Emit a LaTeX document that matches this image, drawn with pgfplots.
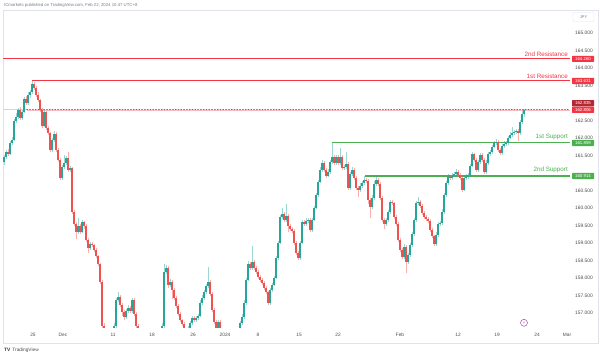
\documentclass[border=0pt]{standalone}
\usepackage{pgfplots}
\usepackage{pgfplotstable}
\pgfplotsset{compat=1.18}
\usepackage{fontspec}
\setmainfont{Liberation Sans}
\newfontfamily\dejavu{DejaVu Sans}
\definecolor{tvgreen}{HTML}{26A69A}
\definecolor{tvred}{HTML}{EF5350}
\definecolor{lvred}{HTML}{F23645}
\definecolor{lvgreen}{HTML}{4CAF50}
\definecolor{tagdark}{HTML}{B22833}
\definecolor{txtgray}{HTML}{787B86}
\definecolor{frame}{HTML}{E0E3EB}

% candles: x o h l c  (up candles)
\pgfplotstableread{
x o h l c
4 161.30 161.52 161.24 161.46
6 161.46 161.66 161.40 161.60
10 161.54 161.92 161.50 161.86
12 161.86 162.02 161.80 161.94
14 161.94 162.55 161.90 162.49
16 162.49 162.70 162.42 162.60
18 162.60 162.86 162.55 162.80
22 162.57 162.80 162.50 162.74
24 162.74 163.18 162.70 163.12
28 163.00 163.30 162.95 163.23
30 163.23 163.38 163.15 163.31
32 163.31 163.63 163.26 163.54
44 162.34 162.80 162.30 162.74
52 161.66 162.00 161.60 161.94
54 161.94 162.20 161.88 162.12
62 160.86 161.24 160.80 161.17
64 161.17 161.50 161.10 161.29
66 161.29 161.48 161.24 161.43
70 161.09 161.20 161.04 161.14
78 159.32 159.70 159.26 159.49
82 159.32 159.66 159.28 159.60
90 158.86 159.03 158.80 158.97
110 155.89 156.06 155.84 156.00
112 156.00 156.30 155.96 156.23
114 156.23 156.70 156.18 156.63
116 156.63 157.44 156.58 157.37
118 157.37 157.60 157.30 157.46
126 156.89 157.12 156.84 157.06
128 157.06 157.22 157.00 157.14
132 157.06 157.44 157.00 157.37
144 155.79 155.96 155.74 155.89
146 155.89 156.06 155.84 156.00
152 155.79 156.00 155.74 155.94
154 155.94 156.12 155.88 156.06
158 155.94 156.16 155.88 156.09
160 156.09 156.36 156.04 156.29
162 156.29 156.70 156.24 156.63
164 156.63 158.40 156.58 158.17
166 158.17 158.36 158.10 158.29
170 157.80 157.96 157.74 157.89
188 156.40 156.64 156.34 156.57
190 156.57 156.78 156.52 156.72
192 156.72 156.92 156.66 156.86
196 156.80 156.92 156.74 156.86
198 156.86 156.98 156.80 156.92
200 156.92 157.36 156.88 157.29
202 157.29 157.50 157.24 157.43
204 157.43 157.66 157.38 157.60
206 157.60 157.84 157.54 157.77
208 157.77 158.30 157.72 157.89
218 156.57 156.80 156.52 156.74
228 155.94 156.06 155.88 156.00
230 156.00 156.18 155.94 156.12
234 156.06 156.24 156.00 156.17
236 156.17 156.36 156.12 156.29
238 156.29 156.58 156.24 156.52
240 156.52 156.78 156.46 156.72
242 156.72 156.96 156.66 156.89
244 156.89 157.36 156.84 157.29
246 157.29 158.00 157.24 157.94
248 157.94 158.48 157.90 158.40
252 158.29 158.90 158.24 158.46
270 157.29 157.72 157.24 157.66
272 157.66 157.86 157.60 157.80
274 157.80 158.06 157.76 158.00
276 158.00 158.64 157.96 158.57
278 158.57 159.06 158.52 159.00
280 159.00 159.80 158.96 159.74
282 159.74 160.00 159.68 159.83
286 159.66 160.10 159.60 159.77
300 158.57 159.06 158.52 159.00
302 159.00 159.66 158.96 159.60
306 159.54 159.70 159.48 159.63
308 159.63 159.72 159.58 159.66
312 159.37 159.72 159.32 159.66
314 159.66 160.06 159.62 160.00
316 160.00 160.44 159.96 160.37
318 160.37 160.80 160.32 160.74
320 160.74 161.16 160.70 161.09
322 161.09 161.36 161.04 161.29
328 160.92 161.10 160.88 161.03
330 161.03 161.38 160.98 161.32
332 161.32 161.86 161.26 161.46
336 161.29 161.52 161.24 161.46
340 161.29 161.70 161.24 161.46
344 161.14 161.24 161.08 161.17
346 161.17 161.60 161.12 161.26
350 160.57 161.04 160.52 160.97
352 160.97 161.16 160.92 161.09
360 160.52 160.70 160.46 160.63
362 160.63 160.78 160.58 160.72
364 160.72 160.91 160.66 160.80
372 160.03 160.36 159.98 160.29
374 160.29 160.76 160.24 160.69
376 160.69 160.90 160.62 160.80
386 159.54 159.72 159.48 159.66
388 159.66 159.94 159.60 159.89
390 159.89 160.24 159.84 160.17
404 158.60 158.96 158.54 158.89
408 158.46 158.72 158.40 158.66
410 158.66 159.00 158.60 158.94
412 158.94 159.32 158.88 159.26
414 159.26 159.72 159.20 159.66
416 159.66 160.20 159.60 160.14
418 160.14 160.30 160.08 160.17
436 158.97 159.30 158.92 159.23
438 159.23 159.60 159.18 159.54
440 159.54 159.64 159.48 159.57
442 159.57 159.96 159.52 159.89
444 159.89 160.44 159.84 160.37
446 160.37 160.78 160.32 160.72
448 160.72 160.96 160.66 160.89
452 160.86 161.00 160.80 160.92
454 160.92 161.04 160.88 160.97
456 160.97 161.10 160.90 161.03
464 160.52 160.92 160.48 160.86
466 160.86 160.96 160.80 160.89
468 160.89 161.00 160.84 160.94
470 160.94 161.26 160.90 161.20
472 161.20 161.60 161.16 161.54
478 161.09 161.38 161.04 161.32
480 161.32 161.58 161.26 161.52
486 161.03 161.36 160.98 161.29
488 161.29 161.60 161.24 161.54
490 161.54 161.66 161.48 161.60
492 161.60 161.80 161.54 161.74
494 161.74 161.92 161.70 161.86
496 161.86 161.96 161.80 161.89
502 161.57 161.84 161.52 161.77
504 161.77 161.90 161.72 161.83
506 161.83 161.92 161.78 161.86
508 161.86 162.06 161.80 162.00
510 162.00 162.16 161.96 162.09
512 162.09 162.30 162.04 162.14
514 162.14 162.24 162.08 162.17
516 162.17 162.26 162.12 162.20
520 162.14 162.52 162.08 162.46
522 162.46 162.76 162.40 162.69
524 162.69 162.84 162.60 162.81
}\up

% down candles
\pgfplotstableread{
x o h l c
8 161.60 161.68 161.48 161.54
20 162.80 162.88 162.50 162.57
26 163.12 163.20 162.94 163.00
34 163.54 163.60 163.36 163.43
36 163.43 163.48 163.18 163.23
38 163.23 163.30 163.02 163.09
40 163.09 163.12 162.74 162.80
42 162.80 162.86 162.28 162.34
46 162.74 162.78 162.22 162.29
48 162.29 162.34 162.08 162.14
50 162.14 162.18 161.60 161.66
56 162.12 162.16 161.60 161.66
58 161.66 161.72 161.30 161.37
60 161.37 161.42 160.80 160.86
68 161.43 161.60 161.02 161.09
72 161.14 161.18 159.82 159.89
74 159.89 159.94 159.48 159.54
76 159.54 159.60 159.10 159.32
80 159.49 159.54 159.26 159.32
84 159.60 159.64 159.40 159.49
86 159.49 159.54 159.02 159.09
88 159.09 159.14 158.70 158.86
92 158.97 159.02 158.88 158.94
94 158.94 158.98 158.74 158.80
96 158.80 158.86 158.56 158.63
98 158.63 158.66 158.34 158.40
100 158.40 158.44 157.82 157.89
102 157.89 157.94 156.56 156.63
104 156.63 156.70 156.00 156.09
106 156.09 156.14 155.86 155.94
108 155.94 156.00 155.80 155.89
120 157.46 157.52 157.16 157.23
122 157.23 157.28 156.90 157.03
124 157.03 157.08 156.80 156.89
130 157.14 157.20 157.00 157.06
134 157.37 157.42 156.90 156.97
136 156.97 157.02 156.56 156.63
138 156.63 156.68 156.02 156.09
140 156.09 156.14 155.88 155.94
142 155.94 156.00 155.72 155.79
148 156.00 156.06 155.88 155.94
150 155.94 156.00 155.72 155.79
156 156.06 156.12 155.88 155.94
168 158.29 158.34 157.72 157.80
172 157.89 157.94 157.40 157.66
174 157.66 157.70 157.36 157.43
176 157.43 157.48 157.14 157.20
178 157.20 157.26 156.90 156.97
180 156.97 157.02 156.74 156.80
182 156.80 156.84 156.62 156.69
184 156.69 156.74 156.46 156.52
186 156.52 156.56 156.34 156.40
194 156.86 156.92 156.74 156.80
210 157.89 157.94 157.48 157.54
212 157.54 157.60 157.02 157.09
214 157.09 157.14 156.68 156.74
216 156.74 156.80 156.50 156.57
220 156.74 156.80 156.46 156.52
222 156.52 156.56 156.22 156.29
224 156.29 156.34 156.02 156.09
226 156.09 156.14 155.88 155.94
232 156.12 156.18 156.00 156.06
250 158.40 158.46 158.22 158.29
254 158.46 158.52 158.22 158.29
256 158.29 158.34 158.10 158.17
258 158.17 158.22 157.96 158.03
260 158.03 158.08 157.88 157.94
262 157.94 158.00 157.80 157.86
264 157.86 157.90 157.66 157.72
266 157.72 157.76 157.54 157.60
268 157.60 157.64 157.22 157.29
284 159.83 159.88 159.60 159.66
288 159.77 159.82 159.30 159.49
290 159.49 159.54 159.34 159.40
292 159.40 159.46 159.28 159.34
294 159.34 159.40 158.94 159.00
296 159.00 159.06 158.66 158.72
298 158.72 158.78 158.50 158.57
304 159.60 159.66 159.48 159.54
310 159.66 159.72 159.30 159.37
324 161.29 161.34 161.02 161.09
326 161.09 161.14 160.86 160.92
334 161.46 161.52 161.22 161.29
338 161.46 161.52 161.22 161.29
342 161.46 161.50 161.08 161.14
348 161.26 161.30 160.50 160.57
354 161.09 161.14 160.80 160.86
356 160.86 160.92 160.50 160.57
358 160.57 160.62 160.30 160.52
366 160.80 160.86 160.70 160.78
368 160.78 160.82 160.10 160.23
370 160.23 160.28 159.70 160.03
378 160.80 160.86 160.62 160.69
380 160.69 160.74 160.22 160.29
382 160.29 160.34 159.60 159.66
384 159.66 159.70 159.40 159.54
392 160.17 160.22 160.08 160.14
394 160.14 160.18 159.68 159.74
396 159.74 159.80 159.48 159.54
398 159.54 159.60 159.02 159.09
400 159.09 159.14 158.74 158.80
402 158.80 158.86 158.54 158.60
406 158.89 158.94 158.14 158.46
420 160.17 160.22 160.00 160.06
422 160.06 160.10 159.80 159.86
424 159.86 159.90 159.68 159.74
426 159.74 159.80 159.62 159.69
428 159.69 159.74 159.56 159.63
430 159.63 159.68 159.30 159.37
432 159.37 159.42 159.14 159.20
434 159.20 159.24 158.90 158.97
450 160.89 160.94 160.80 160.86
458 161.03 161.08 160.88 160.94
460 160.94 161.00 160.80 160.86
462 160.86 160.90 160.46 160.52
474 161.54 161.58 161.30 161.37
476 161.37 161.42 161.02 161.09
482 161.52 161.56 161.30 161.37
484 161.37 161.42 160.96 161.03
498 161.89 161.94 161.60 161.66
500 161.66 161.72 161.50 161.57
518 162.20 162.26 161.90 162.14
}\down

\begin{document}
\begin{tikzpicture}
\path[use as bounding box] (0bp,0bp) rectangle (600bp,354bp);
\draw[frame, line width=0.6bp] (3bp,11bp) rectangle (598bp,344bp);
\node[anchor=west, inner sep=0pt, text=txtgray, font=\fontsize{4.3}{5}\selectfont] at (4bp,349bp) {ICmarkets published on TradingView.com, Feb 22, 2024 10:47 UTC+8};
\node[anchor=west, inner sep=0pt, text=black!80, font=\fontsize{4.8}{5}\selectfont] at (4bp,3.6bp) {{\bfseries TV}\, \textcolor{black!70}{TradingView}};
\begin{axis}[
  at={(3bp,26bp)}, anchor=south west,
  scale only axis, width=567bp, height=318bp,
  xmin=3, xmax=570, ymin=156.5714, ymax=165.657,
  axis line style={draw=none},
  major tick length=0pt, tick style={draw=none},
  xtick={33,63,113,152,193,225,258,299,338,400,458,497,537,567},
  xticklabels={25,Dec,11,18,26,2024,8,15,22,Feb,12,19,24,Mar},
  xticklabel style={font=\fontsize{4.8}{5}\selectfont, text=black!70, inner sep=0pt, yshift=-5bp},
  ytick={157,157.5,158,158.5,159,159.5,160,160.5,161.5,162,162.5,163.5,164,164.5,165},
  yticklabel pos=right,
  yticklabel style={font=\fontsize{4.9}{5}\selectfont, text=black!70, inner sep=0pt, anchor=west, xshift=5bp,
    /pgf/number format/.cd, fixed, fixed zerofill, precision=3, 1000 sep={}, assume math mode=true},
  clip=true,
]
% level lines
\addplot[lvred!30, line width=0.6bp, forget plot] coordinates {(3,162.806) (27,162.806)};
\addplot[color=lvred!35, line width=0.5bp, forget plot] coordinates {(27,162.806) (570,162.806)};
\addplot[color=lvred, line width=1.2bp, line cap=round, dash pattern=on 0.6bp off 2.2bp, forget plot] coordinates {(27,162.806) (570,162.806)};
\addplot[lvred, line width=1.1bp, forget plot] coordinates {(3,164.26) (570,164.26)};
\addplot[lvred, line width=1.1bp, forget plot] coordinates {(32,163.631) (570,163.631)};
\addplot[lvgreen, line width=1.1bp, forget plot] coordinates {(332,161.859) (570,161.859)};
\addplot[lvgreen, line width=1.1bp, forget plot] coordinates {(365,160.914) (570,160.914)};
% wicks
\addplot[draw=none, mark=none, forget plot, error bars/.cd, y dir=plus, y explicit, error mark=none,
  error bar style={draw=tvgreen, draw opacity=0.45, line width=0.6bp}]
  table[x=x, y=l, y error expr={\thisrow{h}-\thisrow{l}}] {\up};
\addplot[draw=none, mark=none, forget plot, error bars/.cd, y dir=plus, y explicit, error mark=none,
  error bar style={draw=tvred, draw opacity=0.45, line width=0.6bp}]
  table[x=x, y=l, y error expr={\thisrow{h}-\thisrow{l}}] {\down};
% bodies
\addplot[draw=none, mark=none, forget plot, error bars/.cd, y dir=plus, y explicit, error mark=none,
  error bar style={draw=tvgreen, line width=1.4bp}]
  table[x=x, y=o, y error expr={\thisrow{c}-\thisrow{o}}] {\up};
\addplot[draw=none, mark=none, forget plot, error bars/.cd, y dir=plus, y explicit, error mark=none,
  error bar style={draw=tvred, line width=1.4bp}]
  table[x=x, y=c, y error expr={\thisrow{o}-\thisrow{c}}] {\down};
% labels
\node[anchor=south east, inner sep=0pt, text=lvred, font=\fontsize{6.3}{7}\selectfont] at (axis cs:568,164.33) {2nd Resistance};
\node[anchor=south east, inner sep=0pt, text=lvred, font=\fontsize{6.3}{7}\selectfont] at (axis cs:568,163.70) {1st Resistance};
\node[anchor=south east, inner sep=0pt, text=lvgreen, font=\fontsize{6.3}{7}\selectfont] at (axis cs:568,161.93) {1st Support};
\node[anchor=south east, inner sep=0pt, text=lvgreen, font=\fontsize{6.3}{7}\selectfont] at (axis cs:568,160.99) {2nd Support};
\coordinate (t1) at (axis cs:570,164.26);
\coordinate (t2) at (axis cs:570,163.631);
\coordinate (t3) at (axis cs:570,162.995);
\coordinate (t4) at (axis cs:570,162.806);
\coordinate (t5) at (axis cs:570,161.859);
\coordinate (t6) at (axis cs:570,160.914);
\coordinate (ev) at (axis cs:524,156.72);
\end{axis}
\tikzset{tag/.style={inner sep=0pt, minimum width=22bp, minimum height=6.2bp, text=white, font=\fontsize{4.4}{5}\selectfont, rounded corners=0.6bp}}
\node[tag, fill=lvred] at ([xshift=13bp]t1) {164.260};
\node[tag, fill=lvred] at ([xshift=13bp]t2) {163.631};
\node[tag, fill=tagdark] at ([xshift=13bp]t3) {162.835};
\node[tag, fill=lvred] at ([xshift=13bp]t4) {162.806};
\node[tag, fill=lvgreen] at ([xshift=13bp]t5) {161.859};
\node[tag, fill=lvgreen] at ([xshift=13bp]t6) {160.914};
\node[draw=frame, fill=white, rounded corners=1bp, inner sep=0pt, minimum width=21bp, minimum height=9bp, text=txtgray, font=\fontsize{4}{5}\selectfont] at (583.5bp,337bp) {JPY};
\node[circle, draw=violet!70, fill=white, line width=0.5bp, inner sep=0pt, minimum size=7bp, text=violet!80, font=\dejavu\fontsize{4}{5}\selectfont] at (ev) {⚡};
\end{tikzpicture}
\end{document}
